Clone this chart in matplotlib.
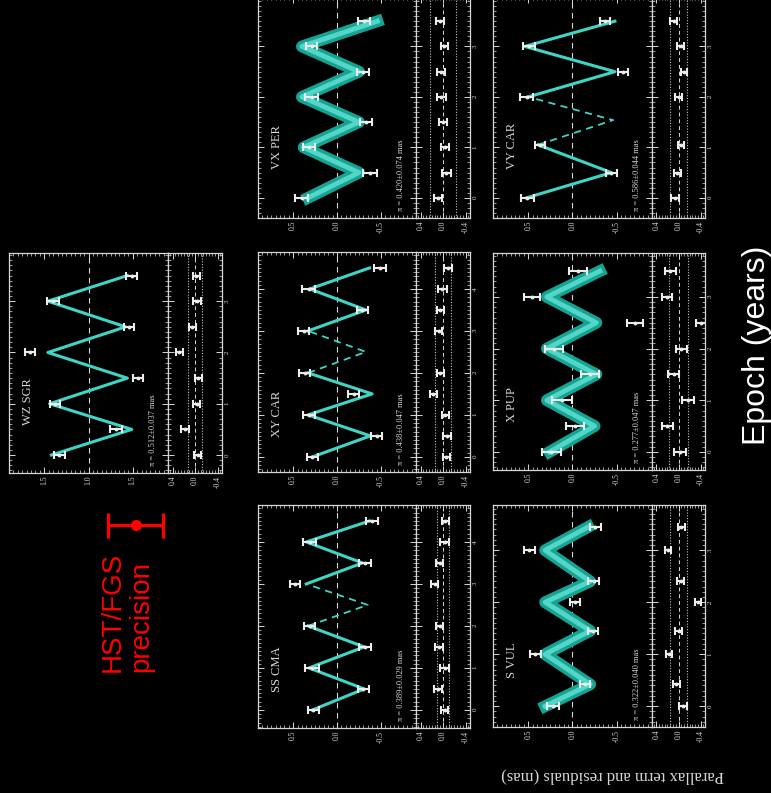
import matplotlib.pyplot as plt
from matplotlib.ticker import MultipleLocator

plt.rcParams['font.family'] = ['Liberation Serif', 'DejaVu Serif']

# ---- data (epoch in years, parallax term in mas) ----
WZ_MODEL_T = [0, 0.5, 1, 1.5, 2, 2.5, 3, 3.5]
WZ_MODEL = [0.42, -0.49, 0.44, -0.44, 0.46, -0.42, 0.46, -0.44]
WZ_T = [0, 0.5, 1, 1.5, 2, 2.5, 3, 3.5]
WZ_OBS = [0.33, -0.31, 0.38, -0.56, 0.66, -0.46, 0.40, -0.49]
WZ_ERR = [0.06, 0.07, 0.06, 0.06, 0.06, 0.06, 0.07, 0.06]
WZ_RES = [-0.05, 0.18, -0.03, -0.06, 0.28, 0.05, -0.03, -0.02]

SS_MODEL_T = [0, 0.5, 1, 1.5, 2, 2.5, 3, 3.5, 4, 4.5]
SS_MODEL = [0.28, -0.31, 0.32, -0.31, 0.33, -0.35, 0.35, -0.29, 0.35, -0.37]
SS_T = [0, 0.5, 1, 1.5, 2, 3, 3.5, 4, 4.5]
SS_OBS = [0.27, -0.30, 0.28, -0.32, 0.31, 0.48, -0.32, 0.31, -0.40]
SS_ERR = [0.065, 0.065, 0.08, 0.065, 0.065, 0.06, 0.065, 0.075, 0.065]
SS_RES = [-0.03, 0.09, -0.03, 0.07, 0.06, 0.15, 0.06, -0.03, -0.04]

XY_MODEL_T = [0, 0.5, 1, 1.5, 2, 2.5, 3, 3.5, 4, 4.5]
XY_MODEL = [0.28, -0.38, 0.33, -0.40, 0.33, -0.33, 0.33, -0.33, 0.31, -0.37]
XY_T = [0, 0.5, 1, 1.5, 2, 3, 3.5, 4, 4.5]
XY_OBS = [0.28, -0.45, 0.32, -0.19, 0.37, 0.38, -0.29, 0.32, -0.49]
XY_ERR = [0.065, 0.065, 0.065, 0.065, 0.06, 0.065, 0.065, 0.075, 0.065]
XY_RES = [-0.06, -0.07, -0.04, 0.17, 0.05, 0.08, 0.05, 0.01, -0.09]

VX_MODEL_T = [0, 0.5, 1, 1.5, 2, 2.5, 3, 3.5]
VX_MODEL = [0.33, -0.25, 0.38, -0.25, 0.40, -0.25, 0.40, -0.46]
VX_T = [0, 0.5, 1, 1.5, 2, 2.5, 3, 3.5]
VX_OBS = [0.40, -0.38, 0.32, -0.33, 0.29, -0.30, 0.29, -0.31]
VX_ERR = [0.075, 0.08, 0.07, 0.07, 0.075, 0.07, 0.06, 0.07]
VX_RES = [0.09, -0.06, -0.03, 0.0, 0.03, 0.03, -0.02, 0.06]

SV_MODEL_T = [0, 0.42, 1, 1.45, 2, 2.4, 3, 3.45]
SV_MODEL = [0.31, -0.20, 0.31, -0.20, 0.31, -0.20, 0.31, -0.18]
SV_T = [0, 0.42, 1, 1.45, 2, 2.4, 3, 3.45]
SV_OBS = [0.22, -0.14, 0.42, -0.23, -0.03, -0.24, 0.49, -0.26]
SV_ERR = [0.07, 0.06, 0.06, 0.06, 0.06, 0.065, 0.06, 0.065]
SV_RES = [-0.08, 0.04, 0.17, 0.0, -0.35, -0.04, 0.19, -0.05]

XP_MODEL_T = [0, 0.5, 1, 1.5, 2, 2.5, 3, 3.5]
XP_MODEL = [0.26, -0.25, 0.29, -0.27, 0.29, -0.27, 0.29, -0.31]
XP_T = [0, 0.5, 1, 1.5, 2, 2.5, 3, 3.5]
XP_OBS = [0.24, -0.03, 0.12, -0.20, 0.21, -0.71, 0.46, -0.06]
XP_ERR = [0.11, 0.10, 0.11, 0.10, 0.10, 0.09, 0.09, 0.10]
XP_RES = [-0.02, 0.20, -0.17, 0.09, -0.05, -0.41, 0.20, 0.15]

VY_MODEL_T = [0, 0.5, 1.05, 1.54, 2, 2.5, 3, 3.5]
VY_MODEL = [0.52, -0.44, 0.39, -0.46, 0.50, -0.48, 0.54, -0.48]
VY_T = [0, 0.5, 1.05, 2, 2.5, 3, 3.5]
VY_OBS = [0.51, -0.44, 0.37, 0.52, -0.57, 0.49, -0.37]
VY_ERR = [0.07, 0.06, 0.055, 0.07, 0.06, 0.065, 0.06]
VY_RES = [0.07, 0.02, -0.04, 0.0, -0.10, -0.04, 0.09]

NAMES = ['WZ SGR', 'SS CMA', 'XY CAR', 'VX PER', 'S VUL', 'X PUP', 'VY CAR']
PARALLAX = ['0.512±0.037', '0.389±0.029', '0.438±0.047', '0.420±0.074',
            '0.322±0.040', '0.277±0.047', '0.586±0.044']
RES_SIGMA = [0.13, 0.10, 0.14, 0.23, 0.15, 0.17, 0.15]
GAPS = [None, (2, 3), (2, 3), None, None, None, (1.05, 2)]
BAND = [False, False, False, True, True, True, False]
PRECISION = 0.30

STARS = [
    (WZ_MODEL_T, WZ_MODEL, WZ_T, WZ_OBS, WZ_ERR, WZ_RES),
    (SS_MODEL_T, SS_MODEL, SS_T, SS_OBS, SS_ERR, SS_RES),
    (XY_MODEL_T, XY_MODEL, XY_T, XY_OBS, XY_ERR, XY_RES),
    (VX_MODEL_T, VX_MODEL, VX_T, VX_OBS, VX_ERR, VX_RES),
    (SV_MODEL_T, SV_MODEL, SV_T, SV_OBS, SV_ERR, SV_RES),
    (XP_MODEL_T, XP_MODEL, XP_T, XP_OBS, XP_ERR, XP_RES),
    (VY_MODEL_T, VY_MODEL, VY_T, VY_OBS, VY_ERR, VY_RES),
]

# ---- layout (pixels): x left, x split, x right, y top, y bottom, epoch range ----
LAYOUT = [
    (9, 168, 222, 253, 473, (-0.35, 3.94)),
    (258, 416, 470, 505, 728, (-0.43, 4.88)),
    (258, 416, 470, 252, 472, (-0.36, 4.88)),
    (258, 416, 470, -3, 218, (-0.40, 3.98)),
    (493, 652, 705, 505, 727, (-0.40, 3.87)),
    (493, 652, 705, 253, 470, (-0.35, 3.85)),
    (493, 652, 705, -3, 218, (-0.40, 3.98)),
]

W, H = 771, 793
fig = plt.figure(figsize=(W / 100, H / 100), dpi=100, facecolor='black')
FG = '#d8d8d8'
CYAN = '#3fd5c5'


def rect(x0, x1, y0, y1):
    return [x0 / W, 1 - y1 / H, (x1 - x0) / W, (y1 - y0) / H]


def style(ax, tlim):
    ax.set_facecolor('black')
    for s in ax.spines.values():
        s.set_color(FG)
        s.set_linewidth(0.9)
    ax.set_ylim(*tlim)
    ax.yaxis.set_major_locator(MultipleLocator(1))
    ax.yaxis.set_minor_locator(MultipleLocator(0.1))
    ax.xaxis.set_minor_locator(MultipleLocator(0.05))
    ax.tick_params(which='both', direction='in', colors=FG, top=True, bottom=True,
                   left=True, right=True, labelsize=5.5, pad=2)
    ax.tick_params(which='major', length=4, width=0.7)
    ax.tick_params(which='minor', length=2, width=0.5)
    ax.tick_params(axis='x', labelrotation=90)
    ax.tick_params(axis='y', labelleft=False, labelright=False)


for i, (mt, mv, t, obs, err, res) in enumerate(STARS):
    x0, xs, x1, y0, y1, tlim = LAYOUT[i]
    ax = fig.add_axes(rect(x0, xs, y0, y1))
    ar = fig.add_axes(rect(xs, x1, y0, y1))
    style(ax, tlim)
    style(ar, tlim)

    ax.set_xlim(0.9, -0.9)
    if i == 0:
        ax.set_xticks([0.5, 0, -0.5], ['1.5', '1.0', '1.5'])
    else:
        ax.set_xticks([0.5, 0, -0.5], ['0.5', '0.0', '-0.5'])
    ar.set_xlim(0.48, -0.48)
    ar.set_xticks([0.4, 0, -0.4], ['0.4', '0.0', '-0.4'])
    ar.tick_params(axis='y', labelright=True, labelrotation=90, labelsize=5)

    ax.axvline(0, color=FG, lw=0.8, ls=(0, (5, 4)))
    ar.axvline(0, color=FG, lw=0.7, ls=(0, (4, 3)))
    for s in (RES_SIGMA[i], -RES_SIGMA[i]):
        ar.axvline(s, color='#b5cdb5', lw=0.8, ls=(0, (1, 1.5)))

    gap = GAPS[i]
    if gap:
        a, b = mt.index(gap[0]), mt.index(gap[1])
        segs = [(mt[:a + 1], mv[:a + 1], False), (mt[a:b + 1], mv[a:b + 1], True),
                (mt[b:], mv[b:], False)]
    else:
        segs = [(mt, mv, False)]
    for tt, vv, dashed in segs:
        if dashed:
            ax.plot(vv, tt, color=CYAN, lw=1.3, ls=(0, (4, 3)))
        elif BAND[i]:
            ax.plot(vv, tt, color='#17a394', lw=8.5)
            ax.plot(vv, tt, color='#52d6c6', lw=3.5)
        else:
            ax.plot(vv, tt, color=CYAN, lw=2.2)

    eb = dict(fmt='o', ms=1.8, color='#ececec', elinewidth=1.5, capsize=3.2, capthick=1.5)
    ax.errorbar(obs, t, xerr=err, **eb)
    ar.errorbar(res, t, xerr=err, **eb)

    ny = 0.16 if tlim[1] - tlim[0] > 5 else 0.22
    ax.text(0.12, ny, NAMES[i], rotation=90, ha='center', va='bottom',
            transform=ax.transAxes, color=FG, fontsize=9)
    ax.text(0.905, 0.03, 'π = ' + PARALLAX[i] + ' mas', rotation=90, ha='center',
            va='bottom', transform=ax.transAxes, color=FG, fontsize=6)

# HST/FGS precision marker
lg = fig.add_axes(rect(100, 171, 505, 545))
lg.axis('off')
lg.set_xlim(-0.39, 0.39)
lg.set_ylim(-1, 1)
lg.errorbar([0], [0], xerr=[PRECISION], fmt='o', color='red', ms=7,
            elinewidth=2.3, capsize=9, capthick=2.3)
fig.text(127 / W, 1 - 672 / H, 'HST/FGS\nprecision', rotation=90, ha='center',
         va='bottom', color='red', fontsize=20, family='Liberation Sans',
         multialignment='left', linespacing=1.15)

fig.text(757 / W, 1 - 345 / H, 'Epoch (years)', rotation=90, ha='center', va='center',
         fontsize=23, color='white', family='Liberation Sans')
fig.text(613 / W, 1 - 776 / H, 'Parallax term and residuals (mas)', rotation=180,
         ha='center', va='center', fontsize=12, color=FG)

fig.savefig('out.png', dpi=100, facecolor='black')
